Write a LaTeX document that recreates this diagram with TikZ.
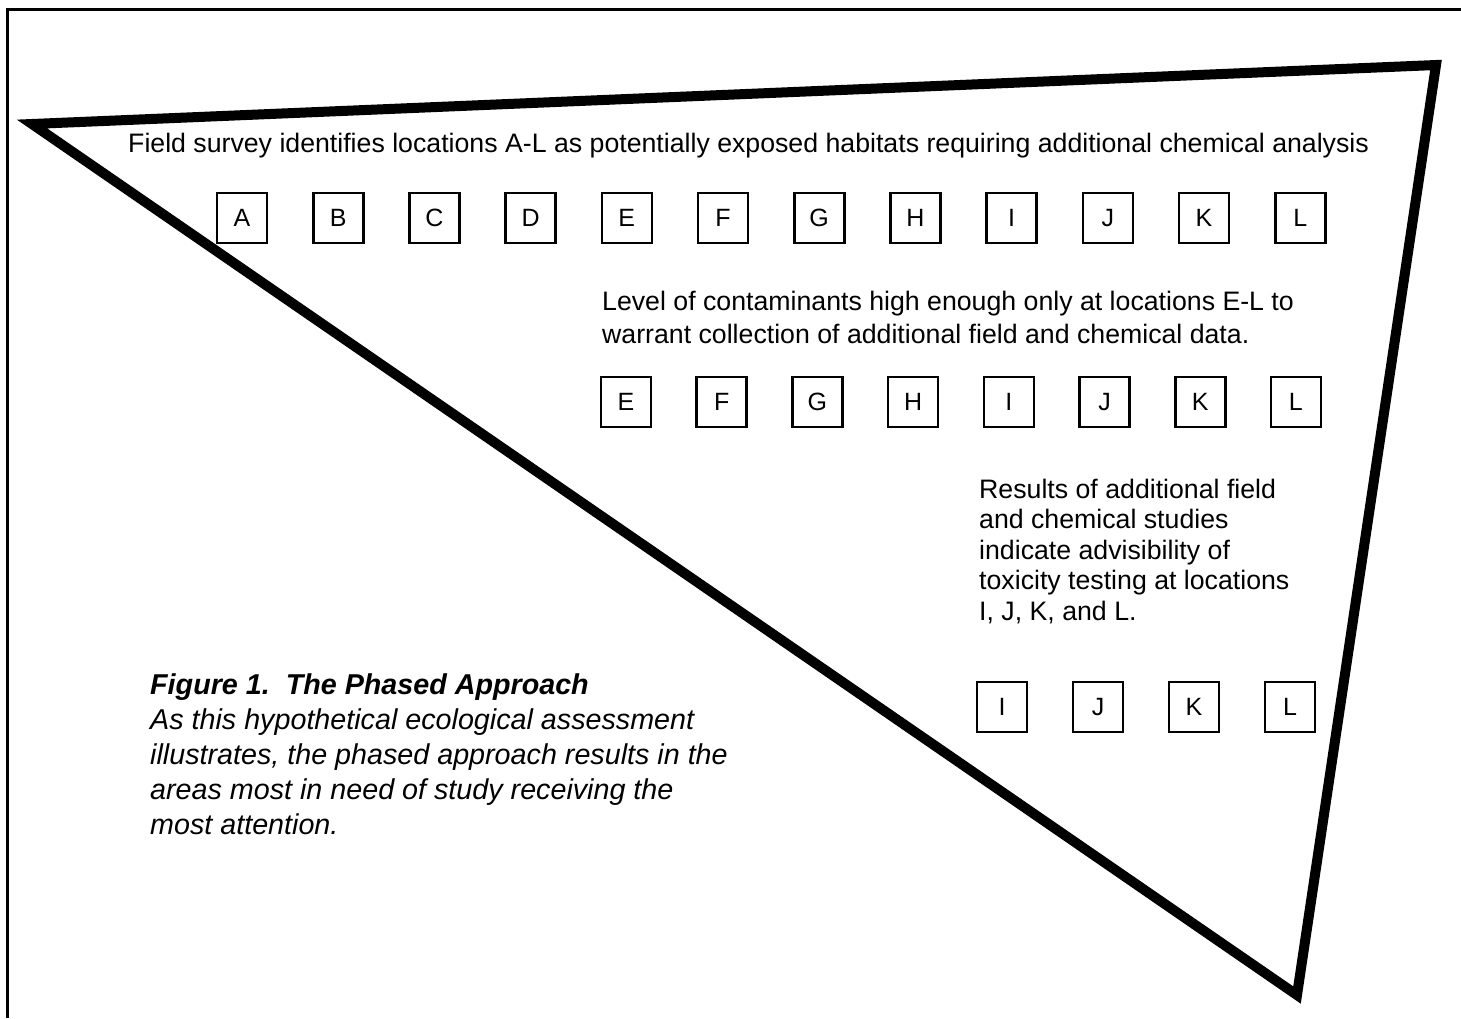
\documentclass[tikz,border=0pt]{standalone}
\usepackage{fontspec}
\setmainfont{Liberation Sans}
\tikzset{
	loc/.style={draw, line width=2.6pt, minimum size=50pt, inner sep=0pt, font=\fontsize{25}{25}\selectfont},
	note/.style={anchor=base west, align=left, inner sep=0pt, font=\fontsize{26.7}{#1}\selectfont},
}
\begin{document}
\begin{tikzpicture}[x=1pt,y=-1pt]
			\useasboundingbox (0,0) rectangle (1461,1018);
			\draw[line width=3pt] (7,1018) -- (7,9) -- (1461,9);
			\coordinate (P) at (32,124);
			\coordinate (Q) at (1436,65);
			\coordinate (R) at (1297,995);
			\draw[line width=10pt] (P) -- (Q) -- (R) -- cycle;
			% texts sit on the baseline of their last line
			\node[note=30] (survey) at (128,152) {Field survey identifies locations A-L as potentially exposed habitats requiring additional chemical analysis};
			\foreach \l [count=\i from 0] in {A,B,C,D,E,F,G,H,I,J,K,L}
				\node[loc] (top-\l) at ({242+96.2*\i},218) {\l};
			\node[note=33] (level) at (602,343) {Level of contaminants high enough only at locations E-L to\\warrant collection of additional field and chemical data.};
			\foreach \l [count=\i from 0] in {E,F,G,H,I,J,K,L}
				\node[loc] (mid-\l) at ({626+95.7*\i},402) {\l};
			\node[note=30.5] (results) at (979,620) {Results of additional field\\and chemical studies\\indicate advisibility of\\toxicity testing at locations\\I, J, K, and L.};
			\foreach \l [count=\i from 0] in {I,J,K,L}
				\node[loc] (low-\l) at ({1002+96*\i},707) {\l};
			\node[note=35, font=\fontsize{28.7}{35}\selectfont\itshape] (caption) at (150,834) {\textbf{Figure 1.\ \ The Phased Approach}\\As this hypothetical ecological assessment\\illustrates, the phased approach results in the\\areas most in need of study receiving the\\most attention.};
		\end{tikzpicture}
\end{document}
